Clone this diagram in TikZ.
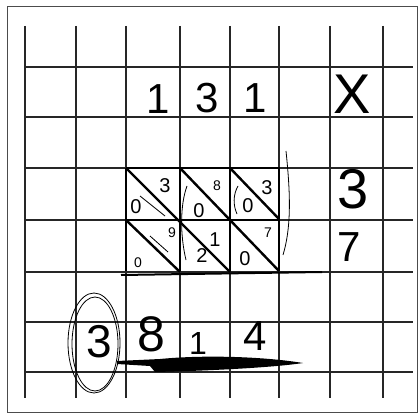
\documentclass[tikz,border=0pt]{standalone}
\usepackage{fontspec}
\setmainfont{Liberation Sans}
\begin{document}
\begin{tikzpicture}[x=1pt,y=-1pt,
  gridline/.style={draw=black!85,line width=1.2pt},
  frameline/.style={draw=black!70,line width=1pt},
  latt/.style={draw=black,line width=2pt},
  diag/.style={draw=black,line width=2.4pt},
  thin/.style={draw=black,line width=0.8pt},
  bigdig/.style={inner sep=0pt,font=\fontsize{42}{42}\selectfont},
  huge/.style={inner sep=0pt,font=\fontsize{56}{56}\selectfont},
  celldig/.style={inner sep=0pt,font=\fontsize{20}{20}\selectfont},
  smalldig/.style={inner sep=0pt,font=\fontsize{14}{14}\selectfont}]
\useasboundingbox (0,0) rectangle (418,419);
\fill[white] (0,0) rectangle (418,419);
\draw[frameline] (7,7) rectangle (417,412);
% grid
\foreach \x in {25,76,126,180,230,279,330,383}
  \draw[gridline] (\x,26) -- (\x,398);
\foreach \y in {67,117,168,220,272,322,372}
  \draw[gridline] (24,\y) -- (413,\y);
% top factor and sign
\node[bigdig] (t1) at (158,99) {1};
\node[bigdig] (t2) at (207,98) {3};
\node[bigdig] (t3) at (255,98) {1};
\node[huge] (tx) at (352,94) {X};
% right factor
\node[huge] (r3) at (353,189) {3};
\node[bigdig] (r7) at (349,247) {7};
% lattice
\coordinate (A) at (126,168);
\coordinate (B) at (279,168);
\coordinate (C) at (279,271);
\coordinate (D) at (126,271);
\draw[latt] (A) -- (B) -- (C);
\draw[latt] (A) -- (D);
\draw[latt] (180,168) -- (180,271);
\draw[latt] (230,168) -- (230,271);
\draw[latt] (126,220) -- (279,220);
\coordinate (bl) at (121,275);
\coordinate (br) at (322,272);
\draw[latt] (bl) -- (br);
\draw[diag] (A) -- (230,272);
\draw[diag] (180,168) -- (C);
\draw[diag] (230,168) -- (279,219);
\draw[diag] (126,220) -- (180,272);
\draw[thin] (140,196) -- (165,216);
\draw[thin] (150,236) -- (168,252);
% parentheses
\draw[thin] (286,151) .. controls (290,190) and (292,225) .. (283,255);
\draw[thin] (187,186) .. controls (180,205) and (180,235) .. (186,260);
\draw[thin] (238,186) .. controls (233,195) and (233,205) .. (237,214);
% cell digits
\node[celldig] (c1) at (165,186) {3};
\node[celldig] (c2) at (136,207) {0};
\node[smalldig] (c3) at (217,186) {8};
\node[celldig] (c4) at (199,211) {0};
\node[celldig] (c5) at (267,188) {3};
\node[celldig] (c6) at (248,206) {0};
\node[smalldig] (c7) at (172,233) {9};
\node[smalldig] (c8) at (138,263) {0};
\node[celldig] (c9) at (215,240) {1};
\node[celldig] (c10) at (202,256) {2};
\node[smalldig] (c11) at (268,233) {7};
\node[celldig] (c12) at (245,259) {0};
% result
\node[inner sep=0pt,font=\fontsize{46}{46}\selectfont] (res3) at (99,342) {3};
\draw[thin] (94,343) ellipse [x radius=26, y radius=50];
\draw[thin] (95,344) ellipse [x radius=23, y radius=47];
\node[inner sep=0pt,font=\fontsize{50}{50}\selectfont] (res8) at (151,334) {8};
\node[inner sep=0pt,font=\fontsize{32}{32}\selectfont] (res1) at (198,343) {1};
\node[bigdig] (res4) at (255,336) {4};
\fill[black] (117,361) -- (160,359) .. controls (200,355) and (260,356) .. (303,363)
  .. controls (270,368) and (200,371) .. (155,372) -- (150,366) -- (117,364) -- cycle;
\end{tikzpicture}
\end{document}
